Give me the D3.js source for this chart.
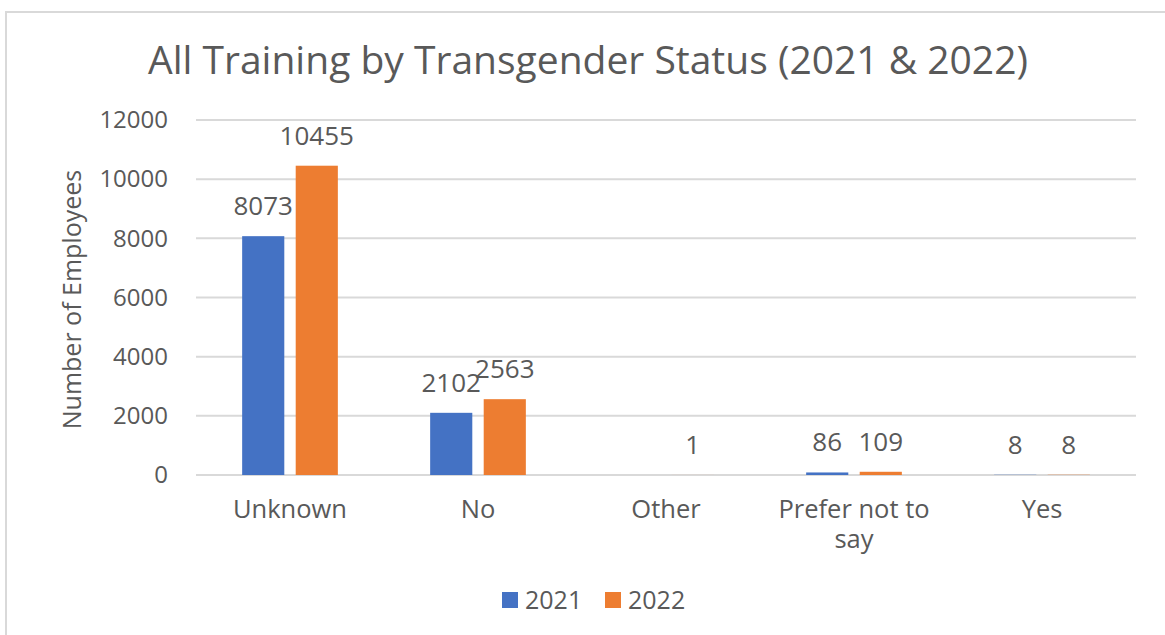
<!DOCTYPE html>
<html><head><meta charset="utf-8">
<script src="https://cdn.jsdelivr.net/npm/d3@7"></script>
<style>
html,body{margin:0;padding:0;background:#fff;}
svg{display:block;}
text{font-family:"Open Sans",sans-serif;fill:#595959;}
</style></head>
<body>
<svg id="chart" width="1165" height="635"></svg>
<script>
const categories = ["Unknown", "No", "Other", "Prefer not to say", "Yes"];
const seriesNames = ["2021", "2022"];
const values2021 = [8073, 2102, null, 86, 8];
const values2022 = [10455, 2563, 1, 109, 8];
const yTicks = [0, 2000, 4000, 6000, 8000, 10000, 12000];
const colors = ["#4472C4", "#ED7D31"];
const title = "All Training by Transgender Status (2021 & 2022)";
const yTitle = "Number of Employees";

const svg = d3.select("#chart");
const plot = {left: 196, right: 1136, top: 120, bottom: 475};

// frame
svg.append("path").attr("d", `M6,635 L6,12 L1165,12`).attr("fill","none").attr("stroke","#D9D9D9").attr("stroke-width",2);

const x0 = d3.scaleBand().domain(categories).range([plot.left, plot.right]).padding(0);
const x1 = d3.scaleBand().domain(seriesNames).range([0, x0.bandwidth()]).paddingInner(0.213).paddingOuter(0.862);
const y = d3.scaleLinear().domain([0, 12000]).range([plot.bottom, plot.top]);

// gridlines
svg.append("g").selectAll("line").data(yTicks).join("line")
  .attr("x1", plot.left).attr("x2", plot.right)
  .attr("y1", d => y(d)).attr("y2", d => y(d))
  .attr("stroke", "#D9D9D9").attr("stroke-width", 2);

// y axis labels
const yAxis = d3.axisLeft(y).tickValues(yTicks).tickSize(0).tickPadding(0).tickFormat(d3.format("d"));
const gy = svg.append("g").attr("transform", `translate(${168},0)`).call(yAxis);
gy.select(".domain").remove();
gy.selectAll("text").attr("font-family", "Open Sans").attr("font-size", 24).attr("fill", "#595959");

// y title
svg.append("text").attr("transform", `translate(81,${(plot.top+plot.bottom)/2 + 2}) rotate(-90)`)
  .attr("text-anchor", "middle").attr("font-size", 25).text(yTitle);

// title
svg.append("text").attr("x", 588).attr("y", 74).attr("text-anchor","middle").attr("font-size", 39).text(title);

// bars
const data = categories.map((c, i) => ({cat: c, vals: [values2021[i], values2022[i]]}));
const groups = svg.append("g").selectAll("g").data(data).join("g")
  .attr("transform", d => `translate(${x0(d.cat)},0)`);
groups.selectAll("rect").data(d => d.vals.map((v, j) => ({s: seriesNames[j], v, j})).filter(e => e.v != null))
  .join("rect")
  .attr("x", e => x1(e.s)).attr("width", x1.bandwidth())
  .attr("y", e => y(e.v)).attr("height", e => y(0) - y(e.v))
  .attr("fill", e => colors[e.j]);
groups.selectAll("text.lbl").data(d => d.vals.map((v, j) => ({s: seriesNames[j], v, j})).filter(e => e.v != null))
  .join("text").attr("class","lbl")
  .attr("x", e => x1(e.s) + x1.bandwidth()/2).attr("y", e => y(e.v) - 21)
  .attr("text-anchor","middle").attr("font-size", 26).text(e => e.v);

// x labels
const xl = svg.append("g").selectAll("text").data(categories).join("text")
  .attr("x", d => x0(d) + x0.bandwidth()/2).attr("y", 518)
  .attr("text-anchor","middle").attr("font-size", 25.5);
xl.each(function(d){
  const t = d3.select(this);
  const lines = d === "Prefer not to say" ? ["Prefer not to", "say"] : [d];
  lines.forEach((ln, k) => t.append("tspan").attr("x", x0(d) + x0.bandwidth()/2).attr("dy", k ? 30 : 0).text(ln));
});

// legend
const legX = [502, 605];
const leg = svg.append("g").selectAll("g").data(seriesNames).join("g")
  .attr("transform", (d,i) => `translate(${legX[i]},592)`);
leg.append("rect").attr("width", 16).attr("height", 16).attr("fill", (d,i) => colors[i]);
leg.append("text").attr("x", 23).attr("y", 16.5).attr("font-size", 25).text(d => d);
</script>
</body></html>
